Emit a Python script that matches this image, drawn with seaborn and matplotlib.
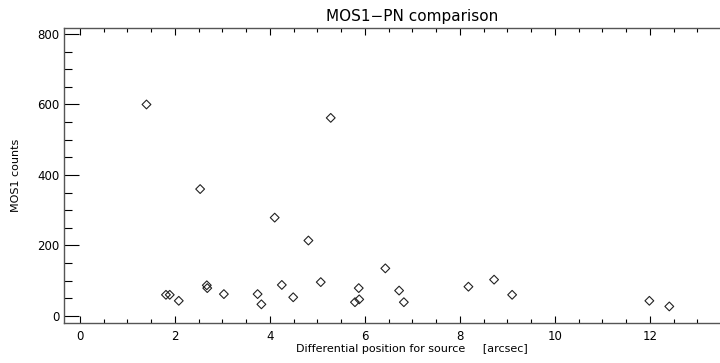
import matplotlib
matplotlib.use("Agg")
import matplotlib.pyplot as plt
import seaborn as sns
import pandas as pd
from matplotlib.ticker import MultipleLocator

# Data
diff_pos = [1.40, 5.28, 2.53, 4.10, 4.81, 1.81, 1.89, 2.08, 2.67, 2.68, 3.03, 3.74,
            3.82, 4.25, 4.49, 5.07, 5.87, 5.79, 5.88, 6.43, 6.72, 6.82, 8.18, 8.72,
            9.10, 11.99, 12.41]
mos1_counts = [600, 562, 360, 279, 214, 60, 60, 43, 87, 79, 62, 62,
               33, 88, 53, 96, 79, 39, 47, 135, 72, 39, 83, 103,
               60, 43, 27]
x_ticks = [0, 2, 4, 6, 8, 10, 12]
y_ticks = [0, 200, 400, 600, 800]

df = pd.DataFrame({"x": diff_pos, "y": mos1_counts})

sns.set_style("ticks")
plt.rcParams["font.family"] = ["DejaVu Sans"]
plt.rcParams["text.color"] = "black"
plt.rcParams["axes.labelcolor"] = "black"
plt.rcParams["xtick.color"] = "black"
plt.rcParams["ytick.color"] = "black"

W, H = 720, 363
fig = plt.figure(figsize=(7.2, 3.63), dpi=100)
left, right, top, bottom = 64, 760, 28, 323
ax = fig.add_axes([left / W, 1 - bottom / H, (right - left) / W, (bottom - top) / H])

sns.scatterplot(data=df, x="x", y="y", ax=ax, marker="D", s=20,
                facecolor="none", edgecolor="#222222", linewidth=0.8)

ax.set_xlim(-0.337, 14.32)
ax.set_ylim(-20, 817)
ax.set_xticks(x_ticks)
ax.set_yticks(y_ticks)
ax.xaxis.set_minor_locator(MultipleLocator(0.5))
ax.yaxis.set_minor_locator(MultipleLocator(50))

ax.tick_params(axis="x", which="major", direction="in", length=5, width=0.8,
               top=True, bottom=True, labelsize=8.5, pad=5, colors="black")
ax.tick_params(axis="x", which="minor", direction="in", length=2.8, width=0.8,
               top=True, bottom=True, colors="black")
ax.tick_params(axis="y", which="major", direction="in", length=10.8, width=0.8,
               left=True, right=False, labelsize=8.5, pad=3, colors="black")
ax.tick_params(axis="y", which="minor", direction="in", length=5.8, width=0.8,
               left=True, right=False, colors="black")

for s in ["left", "bottom", "top"]:
    ax.spines[s].set_visible(True)
    ax.spines[s].set_color("#555555")
    ax.spines[s].set_linewidth(1.0)
ax.spines["right"].set_visible(False)

ax.set_title("MOS1\u2212PN comparison", fontsize=11, pad=5, color="black")
ax.set_xlabel("Differential position for source     [arcsec]", fontsize=8, labelpad=1, color="black")
ax.set_ylabel("MOS1 counts", fontsize=8, labelpad=12, color="black")

fig.savefig("out.png", dpi=100)
